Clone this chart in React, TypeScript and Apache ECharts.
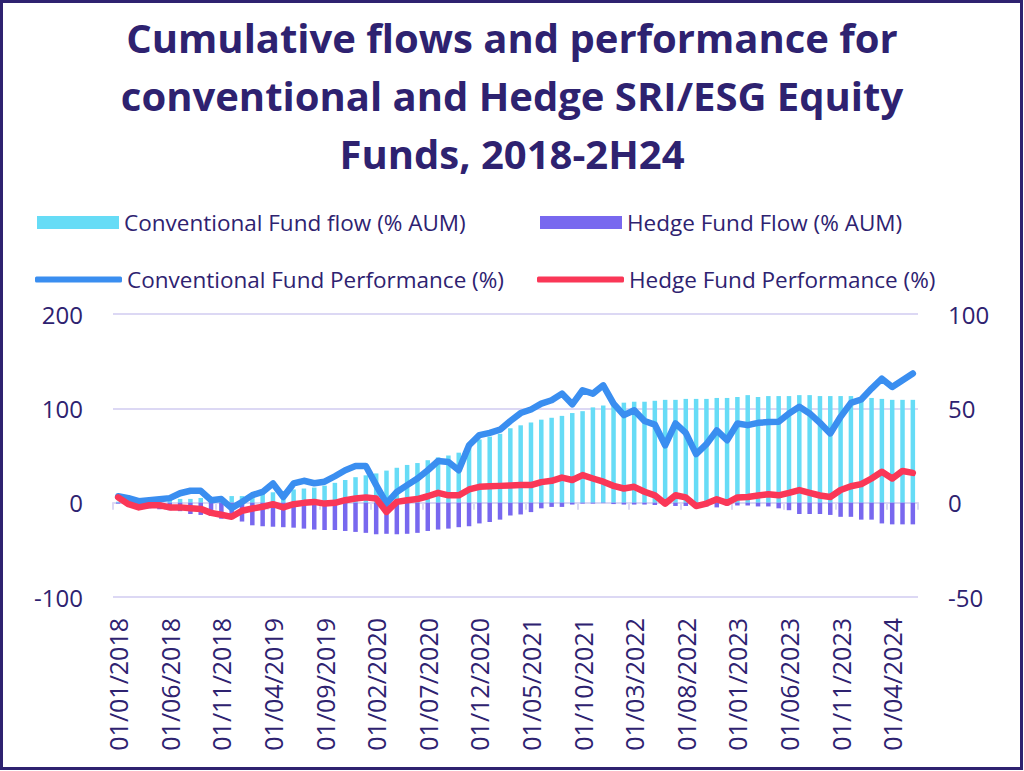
import React, { useEffect, useRef } from "react";
import * as echarts from "echarts";

const months: string[] = [];
for (let y = 2018; y <= 2024; y++) {
  for (let m = 1; m <= 12; m++) {
    if (y === 2024 && m > 6) break;
    months.push(`01/${String(m).padStart(2, "0")}/${y}`);
  }
}

const convFlow = [
  1, 1, 2, 2, 3, 3, 4, 4, 5, 5, 6, 7, 7, 8, 10, 11, 12, 14, 15, 16,
  18, 21, 24, 27, 29, 31, 34, 37, 40, 42, 45, 48, 50, 53, 61, 67, 70, 73, 79, 82,
  85, 88, 90, 92, 95, 97, 101, 103, 105, 106, 107, 107, 108, 109, 109, 110, 110, 110, 111, 111,
  112, 114, 112, 113, 113, 113, 114, 114, 113, 113, 113, 113, 112, 111, 110, 109, 109, 109,
];

const hedgeFlow = [
  -1, -2, -4, -6, -7, -8, -9, -12, -13, -14, -17, -17, -20, -24, -25, -25.5, -26, -26.5, -27.5, -28.5,
  -29, -29, -30, -31, -32, -33.5, -33, -33.5, -33, -32, -30, -28.5, -27.5, -26, -25, -22, -20.5, -18, -13.5, -12.5,
  -10, -6, -4.5, -4.5, -2, -1, -1, -0.5, -1.5, -2, -2, -2, -2.5, -3, -3.5, -3.5, -3, -4, -5, -3,
  -3, -3, -4, -4, -6, -8, -12, -12, -12, -13, -15, -15, -18, -18, -22, -23, -23, -23,
];

const convPerf = [
  3.4, 2.4, 0.8, 1.3, 1.8, 2.4, 5, 6.3, 6.3, 1.3, 1.9, -2.9, 0.4, 4, 5.7, 10.2, 3, 10.2, 11.6, 10.3,
  11.1, 14, 17.2, 19.4, 19.4, 9.3, -0.4, 5.7, 9.3, 12.8, 17.2, 22.1, 21.6, 17.2, 30.4, 35.8, 37, 38.7, 43.3, 47.5,
  49.4, 52.5, 54.3, 57.8, 52.1, 59.6, 57.8, 62.2, 52.5, 46.4, 49, 43.3, 41.4, 30.4, 42, 37, 25.7, 31, 38.3, 33.1,
  42, 41.1, 42.3, 42.7, 42.9, 47.3, 50.8, 47.3, 42.3, 36.7, 45.5, 52.9, 54.7, 60.5, 65.7, 61.3, 64.9, 68.5,
];

const hedgePerf = [
  2.8, -0.8, -2.5, -1.4, -1.4, -2.5, -2.5, -2.9, -3.3, -5.4, -6.4, -7.5, -4.3, -3.1, -2.2, -0.8, -2.5, -0.8, -0.1, 0.4,
  -0.5, -0.1, 1.3, 2.2, 2.8, 2.2, -4.9, 0.4, 1.3, 1.9, 3.4, 5.2, 3.9, 3.9, 7, 8.4, 8.7, 8.9, 9.1, 9.3,
  9.3, 10.9, 11.6, 13.3, 12, 14.6, 12.8, 11.1, 8.9, 7.5, 8.4, 5.8, 3.9, -0.5, 3.9, 2.8, -1.8, -0.5, 1.8, -0.1,
  2.8, 3, 3.8, 4.5, 3.9, 5.2, 6.7, 5.2, 3.8, 3, 6.7, 8.7, 9.8, 12.8, 16.4, 12.8, 16.8, 15.8,
];

const titleLines = [
  "Cumulative flows and performance for",
  "conventional and Hedge SRI/ESG Equity",
  "Funds, 2018-2H24",
];

const leftTicks = { min: -100, max: 200, interval: 100 };
const rightTicks = { min: -50, max: 100, interval: 50 };

const NAVY = "#2e2270";
const GRID = "#dcd8f4";
const FONT = "'Open Sans', sans-serif";

const C_FLOW = "#66dcf6";
const H_FLOW = "#7868ef";
const C_PERF = "#3a8ef0";
const H_PERF = "#fa3757";

export default function App() {
  const ref = useRef<HTMLDivElement>(null);

  useEffect(() => {
    if (!ref.current) return;
    const chart = echarts.init(ref.current, undefined, { renderer: "svg" });
    const legendText = { color: NAVY, fontSize: 22.5, fontFamily: FONT };
    const legendBase = { padding: 0, itemGap: 0, textStyle: legendText };
    const option: any = {
      animation: false,
      backgroundColor: "#ffffff",
      title: titleLines.map((t, i) => ({
        text: t,
        left: "center",
        top: 17 + i * 58,
        padding: 0,
        textStyle: {
          color: NAVY,
          fontSize: 40,
          fontWeight: "bold",
          fontFamily: FONT,
        },
      })),
      graphic: [
        {
          type: "rect",
          shape: { x: 1.5, y: 1.5, width: 1020, height: 767 },
          style: { fill: "none", stroke: NAVY, lineWidth: 3 },
          silent: true,
        },
      ],
      legend: [
        {
          ...legendBase,
          data: [{ name: "Conventional Fund flow (% AUM)", icon: "rect" }],
          left: 37, top: 211, itemWidth: 82, itemHeight: 13,
        },
        {
          ...legendBase,
          data: [{ name: "Hedge Fund Flow (% AUM)", icon: "rect" }],
          left: 540, top: 211, itemWidth: 82, itemHeight: 13,
        },
        {
          ...legendBase,
          data: [{ name: "Conventional Fund Performance (%)", icon: "roundRect" }],
          left: 35, top: 268, itemWidth: 87, itemHeight: 6,
        },
        {
          ...legendBase,
          data: [{ name: "Hedge Fund Performance (%)", icon: "roundRect" }],
          left: 537, top: 268, itemWidth: 87, itemHeight: 6,
        },
      ],
      grid: { left: 113, right: 106, top: 314, bottom: 174, containLabel: false },
      xAxis: [
        {
          type: "category",
          data: months,
          position: "bottom",
          boundaryGap: true,
          axisLine: { show: false, onZero: false },
          axisTick: { show: false },
          axisLabel: {
            interval: 4,
            rotate: 90,
            margin: 21,
            color: NAVY,
            fontSize: 25,
            fontFamily: FONT,
          },
        },
        {
          type: "category",
          data: months,
          position: "bottom",
          boundaryGap: true,
          axisLine: { show: true, onZero: true, lineStyle: { color: GRID, width: 2 } },
          axisTick: { show: true, interval: 4, length: 7, lineStyle: { color: GRID, width: 2 } },
          axisLabel: { show: false, interval: 4 },
        },
      ],
      yAxis: [
        {
          type: "value",
          ...leftTicks,
          axisLine: { show: false },
          axisTick: { show: false },
          splitLine: { show: true, lineStyle: { color: GRID, width: 2 } },
          axisLabel: { color: NAVY, fontSize: 24, margin: 30, fontFamily: FONT },
        },
        {
          type: "value",
          ...rightTicks,
          position: "right",
          axisLine: { show: false },
          axisTick: { show: false },
          splitLine: { show: false },
          axisLabel: { color: NAVY, fontSize: 24, margin: 30, fontFamily: FONT },
        },
      ],
      series: [
        {
          name: "Conventional Fund flow (% AUM)",
          type: "bar",
          data: convFlow,
          xAxisIndex: 0,
          yAxisIndex: 0,
          barWidth: 4.5,
          barGap: "-100%",
          itemStyle: { color: C_FLOW },
        },
        {
          name: "Hedge Fund Flow (% AUM)",
          type: "bar",
          data: hedgeFlow,
          xAxisIndex: 0,
          yAxisIndex: 0,
          barWidth: 4.5,
          barGap: "-100%",
          itemStyle: { color: H_FLOW },
        },
        {
          name: "Conventional Fund Performance (%)",
          type: "line",
          data: convPerf,
          xAxisIndex: 0,
          yAxisIndex: 1,
          symbol: "none",
          itemStyle: { color: C_PERF },
          lineStyle: { color: C_PERF, width: 6.5, cap: "round", join: "round" },
        },
        {
          name: "Hedge Fund Performance (%)",
          type: "line",
          data: hedgePerf,
          xAxisIndex: 0,
          yAxisIndex: 1,
          symbol: "none",
          itemStyle: { color: H_PERF },
          lineStyle: { color: H_PERF, width: 6.5, cap: "round", join: "round" },
        },
      ],
    };
    chart.setOption(option);
    return () => chart.dispose();
  }, []);

  return (
    <div
      ref={ref}
      style={{ position: "fixed", left: 0, top: 0, width: 1024, height: 771, background: "#fff" }}
    />
  );
}
